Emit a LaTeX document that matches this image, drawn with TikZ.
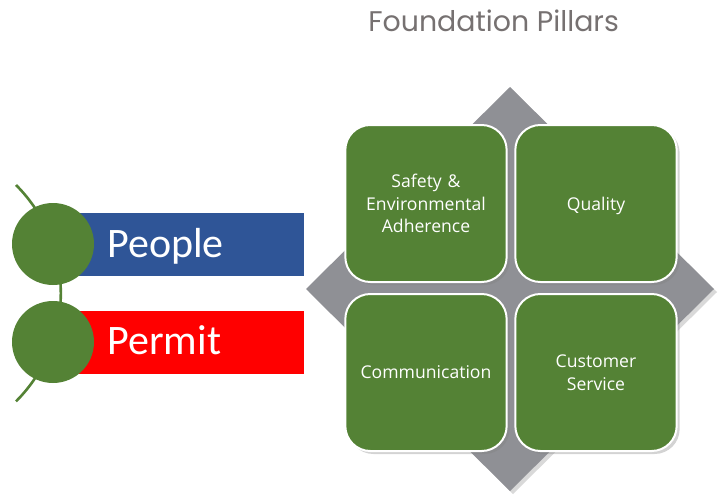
\documentclass[tikz,border=0pt]{standalone}
\usepackage{fontspec}
\setmainfont{Open Sans}
\newfontfamily\bandfont{Carlito}
\newfontfamily\titlefont{Poppins}
\usetikzlibrary{shadows}

\definecolor{pillargreen}{HTML}{548235}
\definecolor{peopleblue}{HTML}{2F5597}
\definecolor{permitred}{HTML}{FF0000}
\definecolor{diamondgray}{HTML}{8F9095}
\definecolor{titlegray}{HTML}{767171}

\tikzset{
  pillar/.style={draw=white, line width=1pt, fill=pillargreen, rounded corners=12.5pt,
    minimum width=79pt, minimum height=78.5pt, text width=74pt, align=center,
    text=white, font=\fontsize{8.8}{11.3}\selectfont,
    drop shadow={shadow xshift=1.5pt, shadow yshift=-1.5pt, opacity=0.35}},
  band/.style={minimum width=117pt, minimum height=31.5pt, inner sep=0pt},
  bandtext/.style={text=white, inner sep=0pt, font=\bandfont\fontsize{21}{25}\selectfont},
  knob/.style={circle, fill=pillargreen, minimum size=41pt, inner sep=0pt},
}

\begin{document}
\begin{tikzpicture}[x=0.5pt,y=-0.5pt]
\useasboundingbox (0,0) rectangle (718,498);

\node[text=titlegray, inner sep=0pt, anchor=base west, font=\titlefont\fontsize{14.2}{16}\selectfont] (title) at (368,32) {Foundation Pillars};

% diamond behind the pillars
\path[fill=diamondgray, drop shadow={shadow xshift=1.5pt, shadow yshift=-1.5pt, opacity=0.3}]
  (510,87) -- (714,289) -- (510,491) -- (306,289) -- cycle;

\node[pillar] (safety) at (426,203.5) {Safety \&\\ Environmental\\ Adherence};
\node[pillar, text depth=0pt] (quality) at (596,203.5) {Quality};
\node[pillar] (comms) at (426,372.5) {Communication};
\node[pillar] (service) at (596,372.5) {Customer\\ Service};

% left side
\coordinate (arcstart) at (16,185);
\draw[pillargreen, line width=1.3pt] (arcstart) arc[start angle=45, end angle=-45, radius=76.5pt];

\node[band, fill=peopleblue] (peopleband) at (187,244.5) {};
\node[band, fill=permitred] (permitband) at (187,342.5) {};

\node[knob] (peopleknob) at (53,244) {};
\node[knob] (permitknob) at (53,342) {};

\node[bandtext, anchor=base west] (peoplelabel) at (107,257) {People};
\node[bandtext, anchor=base west] (permitlabel) at (107,354) {Permit};

\end{tikzpicture}
\end{document}
